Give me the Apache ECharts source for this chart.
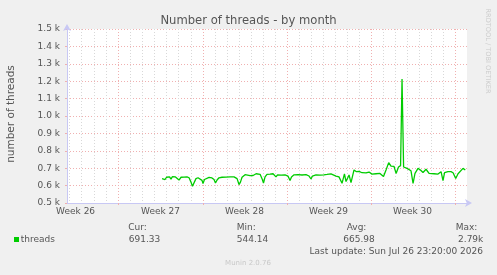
<!DOCTYPE html>
<html>
<head>
<meta charset="utf-8">
<script src="https://cdn.jsdelivr.net/npm/echarts@6/dist/echarts.min.js"></script>
<style>
html,body{margin:0;padding:0;background:#f0f0f0;}
#chart{width:497px;height:275px;}
</style>
</head>
<body>
<div id="chart"></div>
<script>
// ---- data (x = days since start of the month window) ----
const days = [7.84,7.96,8.09,8.21,8.33,8.46,8.58,8.70,8.83,8.95,9.08,9.24,9.41,9.65,9.90,10.07,10.23,10.35,10.48,10.64,10.81,10.97,11.14,11.22,11.34,11.47,11.72,11.96,12.13,12.25,12.38,12.54,12.79,13.12,13.45,13.78,14.03,14.19,14.31,14.44,14.69,14.85,15.10,15.35,15.60,15.76,15.93,16.09,16.21,16.34,16.50,16.75,17.00,17.16,17.24,17.37,17.66,17.99,18.23,18.40,18.52,18.73,19.06,19.39,19.72,19.97,20.13,20.25,
  20.54,20.87,21.20,21.45,21.78,22.19,22.44,22.69,22.89,23.02,23.27,23.43,23.68,23.88,24.09,24.34,24.67,24.92,25.16,25.49,25.82,25.95,26.11,26.32,26.54,26.73,26.98,27.15,27.35,27.52,27.64,27.77,28.05,28.38,28.55,28.71,28.96,29.16,29.37,29.62,29.87,30.28,30.61,30.86,31.02,31.15,31.43,31.68,31.85,32.07,32.26,32.67,32.86];
const threads = [640,650,635,648,638,650,637,652,645,650,646,632,648,649,650,645,620,596,605,640,645,643,630,612,635,645,647,644,635,615,632,645,648,649,650,650,640,606,620,648,663,655,657,658,668,675,665,640,615,650,665,666,668,672,650,662,660,661,655,629,650,662,663,661,663,655,638,655,
  661,660,662,664,667,655,650,613,667,623,661,617,690,680,682,674,673,678,666,668,670,680,652,690,732,712,710,670,707,715,1212,707,699,685,613,670,699,690,675,694,670,668,666,680,628,674,680,680,674,641,668,699,690];
const weekStarts = [4.21, 11.22, 18.15, 25.08, 32.01];
const weekLabels = ['Week 26', 'Week 27', 'Week 28', 'Week 29', 'Week 30'];
const yTicks = [500, 600, 700, 800, 900, 1000, 1100, 1200, 1300, 1400, 1500];
const seriesName = 'threads';
const statHeads = ['Cur:', 'Min:', 'Avg:', 'Max:'];
const statValues = ['691.33', '544.14', '665.98', '2.79k'];
const lastUpdate = 'Last update: Sun Jul 26 23:20:00 2026';
const titleText = 'Number of threads - by month';
const yName = 'number of threads';
const credit = 'RRDTOOL / TOBI OETIKER';
const footer = 'Munin 2.0.76';

// ---- derived grid positions ----
const minorDays = [];
for (let k = 4; k >= 1; k--) minorDays.push(weekStarts[0] - k);
for (let i = 0; i < weekStarts.length - 1; i++) {
  const step = (weekStarts[i + 1] - weekStarts[i]) / 7;
  for (let j = 0; j < 7; j++) minorDays.push(weekStarts[i] + j * step);
}
minorDays.push(weekStarts[weekStarts.length - 1]);
const labelDays = weekStarts.map(d => +(d - 3.5).toFixed(2));

const FONT = '"DejaVu Sans", "Liberation Sans", sans-serif';
const TXT = '#555555';
const AXIS = '#c8c8f4';
const MAJOR = '#f0b0b0';
const MINOR = '#d8d8d8';

const chart = echarts.init(document.getElementById('chart'), null, {renderer: 'canvas'});
const dataPts = days.map((d, i) => [d, threads[i]]);

const xBase = {type: 'value', min: 0, max: 33, gridIndex: 0, position: 'bottom', offset: 0};

const option = {
  backgroundColor: '#f0f0f0',
  animation: false,
  grid: {left: 67, right: 30, top: 29, bottom: 72, show: true, backgroundColor: '#ffffff', borderWidth: 0, containLabel: false},
  xAxis: [
    Object.assign({}, xBase, {
      axisLine: {show: false, onZero: false},
      axisTick: {show: false, customValues: minorDays},
      axisLabel: {show: false},
      splitLine: {show: true, lineStyle: {color: MINOR, type: [1, 2], width: 1}}
    }),
    Object.assign({}, xBase, {
      axisLine: {show: false, onZero: false},
      axisTick: {show: true, customValues: weekStarts, length: 2, lineStyle: {color: MAJOR}},
      axisLabel: {show: true, customValues: labelDays, margin: 4, color: TXT, fontSize: 9, fontFamily: FONT,
        formatter: v => { const i = labelDays.findIndex(x => Math.abs(x - v) < 1e-6); return i >= 0 ? weekLabels[i] : ''; }},
      splitLine: {show: true, lineStyle: {color: MAJOR, type: [1, 2], width: 1}}
    }),
    Object.assign({}, xBase, {
      axisLine: {show: true, onZero: false, lineStyle: {color: AXIS, width: 1}, symbol: ['none', 'arrow'], symbolSize: [6, 7], symbolOffset: [0, 5]},
      axisTick: {show: false},
      axisLabel: {show: false},
      splitLine: {show: false}
    })
  ],
  yAxis: {
    type: 'value', min: yTicks[0], max: yTicks[yTicks.length - 1], interval: 100, position: 'left',
    axisLine: {show: true, onZero: false, lineStyle: {color: AXIS, width: 1}, symbol: ['none', 'arrow'], symbolSize: [6, 7], symbolOffset: [0, 5]},
    axisTick: {show: true, length: 2, lineStyle: {color: MAJOR}},
    axisLabel: {margin: 7, color: TXT, fontSize: 9, fontFamily: FONT, formatter: v => (v / 1000).toFixed(1) + ' k'},
    splitLine: {show: true, lineStyle: {color: MAJOR, type: [1, 2], width: 1}}
  },
  series: [{
    name: seriesName, type: 'line', xAxisIndex: 0, data: dataPts, showSymbol: false, symbol: 'none',
    lineStyle: {color: '#00cc00', width: 1.3}, z: 5
  }],
  graphic: [
    {type: 'text', x: 248.5, y: 20.5, style: {text: titleText, fill: TXT, font: '11.6px ' + FONT, textAlign: 'center', textVerticalAlign: 'middle', align: 'center', verticalAlign: 'middle'}},
    {type: 'text', x: 11, y: 114, rotation: Math.PI / 2, style: {text: yName, fill: TXT, font: '10.5px ' + FONT, textAlign: 'center', textVerticalAlign: 'middle', align: 'center', verticalAlign: 'middle'}},
    {type: 'text', x: 487.5, y: 51, rotation: -Math.PI / 2, style: {text: credit, fill: '#cccccc', font: '6.6px ' + FONT, textAlign: 'center', textVerticalAlign: 'middle', align: 'center', verticalAlign: 'middle'}},
    {type: 'rect', shape: {x: 14, y: 237, width: 5, height: 5}, style: {fill: '#00cc00'}},
    {type: 'text', x: 20.7, y: 239.5, style: {text: seriesName, fill: TXT, font: '9px ' + FONT, textAlign: 'left', textVerticalAlign: 'middle', align: 'left', verticalAlign: 'middle'}},
    {type: 'text', x: 128.3, y: 227.5, style: {text: statHeads[0], fill: TXT, font: '9px ' + FONT, textAlign: 'left', textVerticalAlign: 'middle', align: 'left', verticalAlign: 'middle'}},
    {type: 'text', x: 128.7, y: 239.5, style: {text: statValues[0], fill: TXT, font: '9px ' + FONT, textAlign: 'left', textVerticalAlign: 'middle', align: 'left', verticalAlign: 'middle'}},
    {type: 'text', x: 236.7, y: 227.5, style: {text: statHeads[1], fill: TXT, font: '9px ' + FONT, textAlign: 'left', textVerticalAlign: 'middle', align: 'left', verticalAlign: 'middle'}},
    {type: 'text', x: 236.7, y: 239.5, style: {text: statValues[1], fill: TXT, font: '9px ' + FONT, textAlign: 'left', textVerticalAlign: 'middle', align: 'left', verticalAlign: 'middle'}},
    {type: 'text', x: 346.7, y: 227.5, style: {text: statHeads[2], fill: TXT, font: '9px ' + FONT, textAlign: 'left', textVerticalAlign: 'middle', align: 'left', verticalAlign: 'middle'}},
    {type: 'text', x: 343.3, y: 239.5, style: {text: statValues[2], fill: TXT, font: '9px ' + FONT, textAlign: 'left', textVerticalAlign: 'middle', align: 'left', verticalAlign: 'middle'}},
    {type: 'text', x: 455.7, y: 227.5, style: {text: statHeads[3], fill: TXT, font: '9px ' + FONT, textAlign: 'left', textVerticalAlign: 'middle', align: 'left', verticalAlign: 'middle'}},
    {type: 'text', x: 483.3, y: 239.5, style: {text: statValues[3], fill: TXT, font: '9px ' + FONT, textAlign: 'right', textVerticalAlign: 'middle', align: 'right', verticalAlign: 'middle'}},
    {type: 'text', x: 483, y: 251.5, style: {text: lastUpdate, fill: TXT, font: '9px ' + FONT, textAlign: 'right', textVerticalAlign: 'middle', align: 'right', verticalAlign: 'middle'}},
    {type: 'text', x: 248, y: 262.7, style: {text: footer, fill: '#c8c8c8', font: '7px ' + FONT, textAlign: 'center', textVerticalAlign: 'middle', align: 'center', verticalAlign: 'middle'}}
  ]
};
chart.setOption(option);
</script>
</body>
</html>
